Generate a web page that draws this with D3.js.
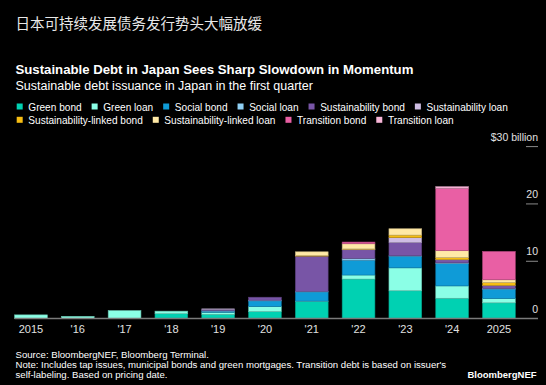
<!DOCTYPE html>
<html>
<head>
<meta charset="utf-8">
<script src="https://cdn.jsdelivr.net/npm/d3@7"></script>
<style>
  html, body { margin: 0; padding: 0; background: #000; }
  svg { display: block; }
</style>
</head>
<body>
<div id="chart"></div>
<script>
// chart data (billion USD, first quarter)
var years = ["2015", "'16", "'17", "'18", "'19", "'20", "'21", "'22", "'23", "'24", "2025"];
var seriesNames = ["Green bond", "Green loan", "Social bond", "Social loan", "Sustainability bond",
                   "Sustainability loan", "Sustainability-linked bond", "Sustainability-linked loan",
                   "Transition bond", "Transition loan"];
var seriesColors = ["#00d1b2", "#8bffe6", "#0f9bd7", "#8fd0f5", "#7855a6",
                    "#cfbde3", "#f6bd13", "#ffe9a6", "#e95fa4", "#f8b6d8"];
var greenBond  = [0, 0, 0, 0.85, 0.75, 1.22, 3.0, 6.9, 4.85, 3.55, 2.75];
var greenLoan  = [0.65, 0.4, 1.4, 0.45, 0.35, 0.87, 0.05, 0.7, 4.0, 2.15, 0.75];
var socialBond = [0, 0, 0, 0, 0.2, 1.0, 1.6, 2.6, 2.05, 3.9, 1.65];
var socialLoan = [0, 0, 0, 0, 0.12, 0.12, 0.1, 0.3, 0.05, 0.12, 0.1];
var sustBond   = [0, 0, 0, 0, 0.18, 0.52, 6.15, 1.5, 2.3, 0.52, 0.5];
var sustLoan   = [0, 0, 0, 0, 0.1, 0, 0, 0.1, 0.87, 0.05, 0.05];
var slBond     = [0, 0, 0, 0, 0, 0, 0.1, 0.05, 0.45, 0.35, 0.5];
var slLoan     = [0, 0, 0, 0, 0, 0, 0.65, 0.9, 1.1, 1.2, 0.47];
var transBond  = [0, 0, 0, 0, 0, 0, 0, 0.3, 0, 10.9, 4.95];
var transLoan  = [0, 0, 0, 0, 0, 0, 0, 0, 0, 0.28, 0];
var yTicks = [0, 10, 20, 30];

var allSeries = [greenBond, greenLoan, socialBond, socialLoan, sustBond,
                 sustLoan, slBond, slLoan, transBond, transLoan];

var w = 546, h = 385,
    font = "'Liberation Sans', Arial, sans-serif",
    svg = d3.select("#chart").append("svg").attr("width", w).attr("height", h),
    x = d3.scaleBand().domain(years).range([14.6, 515.3]).paddingInner(0.3).paddingOuter(0),
    y = d3.scaleLinear().domain([0, 30]).range([318.6, 146.6]);

svg.append("rect").attr("width", w).attr("height", h).attr("fill", "#000");

// titles
svg.append("text")
    .attr("x", 15.5).attr("y", 29)
    .attr("font-family", "'Noto Sans CJK SC', sans-serif")
    .attr("font-size", "14.5px")
    .attr("fill", "#e8e8e8")
    .text("日本可持续发展债务发行势头大幅放缓");

svg.append("text")
    .attr("x", 15.5).attr("y", 73.5)
    .attr("font-family", font).attr("font-weight", "bold")
    .attr("font-size", "13.2px").attr("fill", "#fff")
    .text("Sustainable Debt in Japan Sees Sharp Slowdown in Momentum");

svg.append("text")
    .attr("x", 15.5).attr("y", 90)
    .attr("font-family", font)
    .attr("font-size", "12.5px").attr("fill", "#fff")
    .text("Sustainable debt issuance in Japan in the first quarter");

// legend, flowing into rows
var lx = 16.7, ly = 110.5;
seriesNames.forEach(function(name, i) {
    var g = svg.append("g");
    var t = g.append("text")
        .attr("x", lx + 11.6).attr("y", ly)
        .attr("font-family", font).attr("font-size", "10.1px").attr("fill", "#fff")
        .text(name);
    var tw = t.node().getComputedTextLength();
    if (lx + 11.6 + tw > 530) {
        lx = 16.7; ly += 13.3;
        t.attr("x", lx + 11.6).attr("y", ly);
    }
    g.append("rect")
        .attr("x", lx).attr("y", ly - 7)
        .attr("width", 6).attr("height", 6)
        .attr("fill", seriesColors[i]);
    lx += 11.6 + tw + 10;
});

// stacked bars
var rows = years.map(function(yr, j) {
    var r = { year: yr };
    seriesNames.forEach(function(n, i) { r[n] = allSeries[i][j]; });
    return r;
});
var stack = d3.stack().keys(seriesNames)(rows);

svg.append("g").selectAll("g")
    .data(stack)
    .enter().append("g")
    .attr("fill", function(d, i) { return seriesColors[i]; })
    .attr("stroke", function(d, i) { return d3.color(seriesColors[i]).darker(0.8); })
    .attr("stroke-width", 0.6)
    .selectAll("rect")
    .data(function(d) { return d.filter(function(p) { return p[1] - p[0] > 0; }); })
    .enter().append("rect")
    .attr("x", function(d) { return x(d.data.year); })
    .attr("y", function(d) { return y(d[1]); })
    .attr("width", x.bandwidth())
    .attr("height", function(d) { return y(d[0]) - y(d[1]); });

// baseline
svg.append("line")
    .attr("x1", 14.6).attr("x2", 538)
    .attr("y1", y(0)).attr("y2", y(0))
    .attr("stroke", "#7a7a7a").attr("stroke-width", 1.5);

// y axis on the right: short tick marks with labels above them
var yAxis = svg.append("g");
yAxis.selectAll("line.tick")
    .data(yTicks.filter(function(d) { return d > 0; }))
    .enter().append("line")
    .attr("class", "tick")
    .attr("x1", 526).attr("x2", 538)
    .attr("y1", function(d) { return y(d); })
    .attr("y2", function(d) { return y(d); })
    .attr("stroke", "#8a8a8a").attr("stroke-width", 1);
yAxis.selectAll("text")
    .data(yTicks)
    .enter().append("text")
    .attr("x", 538)
    .attr("y", function(d) { return y(d) - 6; })
    .attr("text-anchor", "end")
    .attr("font-family", font).attr("font-size", "10.5px").attr("fill", "#e0e0e0")
    .text(function(d) { return d == 30 ? "$30 billion" : d; });

// x labels
svg.append("g")
    .attr("transform", "translate(0," + (y(0)) + ")")
    .call(d3.axisBottom(x).tickSize(0).tickPadding(7))
    .call(function(g) { g.select(".domain").remove(); })
    .selectAll("text")
    .attr("font-family", font).attr("font-size", "11px").attr("fill", "#e0e0e0");

// footer
var notes = ["Source: BloombergNEF, Bloomberg Terminal.",
             "Note: Includes tap issues, municipal bonds and green mortgages. Transition debt is based on issuer's",
             "self-labeling. Based on pricing date."];
notes.forEach(function(s, i) {
    svg.append("text")
        .attr("x", 15.5).attr("y", 357.8 + i * 10.1)
        .attr("font-family", font).attr("font-size", "9.6px").attr("fill", "#fff")
        .text(s);
});
svg.append("text")
    .attr("x", 536.6).attr("y", 378)
    .attr("text-anchor", "end")
    .attr("font-family", font).attr("font-weight", "bold")
    .attr("font-size", "9.5px").attr("fill", "#fff")
    .text("BloombergNEF");
</script>
</body>
</html>
